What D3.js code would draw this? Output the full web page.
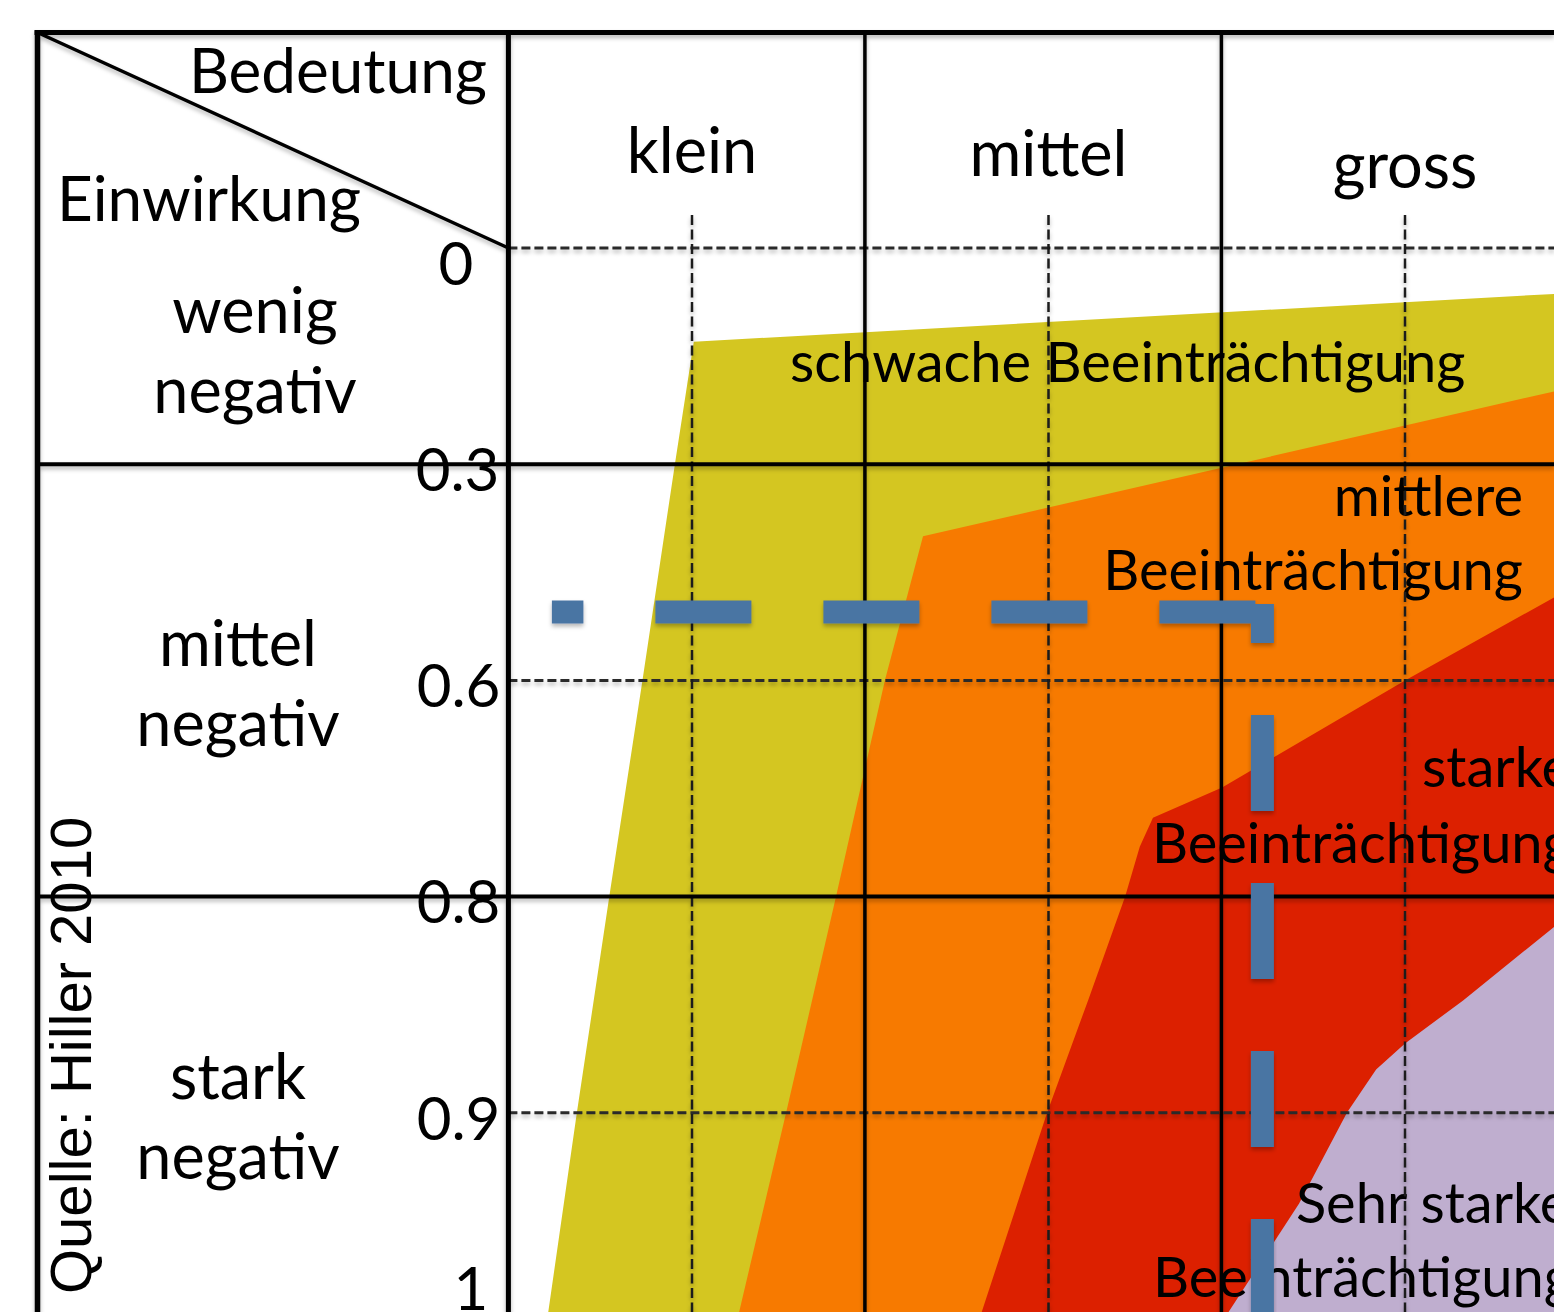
<!DOCTYPE html>
<html>
<head>
<meta charset="utf-8">
<script src="https://cdn.jsdelivr.net/npm/d3@7"></script>
<style>
  html, body { margin: 0; padding: 0; background: #fff; }
  svg { display: block; }
  text { font-family: Lato, "Noto Sans", sans-serif; fill: #000; }
</style>
</head>
<body>
<svg id="chart" width="1554" height="1312"></svg>
<script>
// ---- data -------------------------------------------------------------
// Bedeutung (significance) classes, one column each
const bedeutung = ["klein", "mittel", "gross"];

// Einwirkung (impact) scale values and their printed labels
const einwirkungTicks = [0, 0.3, 0.6, 0.8, 0.9, 1];
const einwirkungTickLabels = ["0", "0.3", "0.6", "0.8", "0.9", "1"];

// impact classes with their value ranges
const einwirkungClasses = [["wenig", "negativ"], ["mittel", "negativ"], ["stark", "negativ"]];
const einwirkungClassRanges = [[0, 0.3], [0.3, 0.8], [0.8, 1]];

// Beeinträchtigung zones: outlines as [Bedeutung position, Einwirkung value]
const zoneSchwach = [[0.005, 0.13], [-0.048, 0.3], [-0.139, 0.6], [-0.232, 0.8], [-0.323, 0.9], [-0.41, 1.0],
                     [2.7, 1.0], [2.7, 0.056]];
const zoneMittel  = [[0.648, 0.4], [0.541, 0.6], [0.404, 0.8], [0.264, 0.9], [0.121, 1.0],
                     [2.7, 1.0], [2.7, 0.167]];
const zoneStark   = [[2.7, 0.407], [2.418, 0.485], [2.0, 0.6], [1.487, 0.699], [1.293, 0.727], [1.256, 0.754],
                     [1.215, 0.8], [1.111, 0.848], [0.996, 0.9], [0.797, 1.0], [2.7, 1.0]];
const zoneSehrStark = [[2.7, 0.761], [2.418, 0.814], [2.163, 0.848], [2.0, 0.868], [1.919, 0.88], [1.837, 0.9],
                       [1.703, 0.942], [1.474, 1.0], [2.7, 1.0]];
const zoneColors = ["#d4c621", "#f77a00", "#dc2000", "#bfaecf"];

// zone captions, one entry per text line: [text, Bedeutung position, Einwirkung value, anchor]
const zoneCaptions = [
  ["schwache Beeinträchtigung", 0.275, 0.1866, "start"],
  ["mittlere", 2.331, 0.372, "end"],
  ["Beeinträchtigung", 2.331, 0.474, "end"],
  ["starke", 2.048, 0.699, "start"],
  ["Beeinträchtigung", 1.29, 0.7685, "start"],
  ["Sehr starke", 1.694, 0.951, "start"],
  ["Beeinträchtigung", 1.293, 0.985, "start"]
];

// assessed case: Bedeutung position and Einwirkung value
const assessedCase = { bedeutung: 1.6, einwirkung: 0.505 };
const guideStart = -0.393;   // Bedeutung position where the horizontal guide begins

// ---- layout -----------------------------------------------------------
const W = 1554, H = 1312;
const rowTop = 248, rowStep = 216.2;
const svg = d3.select("#chart");

const x = d3.scaleLinear().domain([0, bedeutung.length - 1]).range([692, 1405]);
const y = d3.scaleLinear().domain(einwirkungTicks).range(einwirkungTicks.map((d, i) => rowTop + i * rowStep));
const sepShift = 0.515;            // column borders sit just left of the midpoints
const leftEdge = 37.5, topEdge = 32.5;
const headBorder = x(-sepShift);

const defs = svg.append("defs");
defs.append("filter").attr("id", "shade")
  .attr("x", "-2%").attr("y", "-2%").attr("width", "104%").attr("height", "104%")
  .append("feDropShadow").attr("dx", 0).attr("dy", 3).attr("stdDeviation", 2)
  .attr("flood-color", "#000").attr("flood-opacity", 0.28);

// ---- zones ------------------------------------------------------------
const zoneLine = d3.line().x(d => x(d[0])).y(d => y(d[1])).curve(d3.curveLinearClosed);
svg.append("g").selectAll("path")
  .data([zoneSchwach, zoneMittel, zoneStark, zoneSehrStark])
  .join("path")
  .attr("d", zoneLine)
  .attr("fill", (d, i) => zoneColors[i]);

// ---- zone captions ------------------------------------------------------
svg.append("g").selectAll("text")
  .data(zoneCaptions)
  .join("text")
  .attr("x", d => x(d[1]))
  .attr("y", d => y(d[2]))
  .attr("text-anchor", d => d[3])
  .style("font-size", "56px")
  .text(d => d[0]);

// ---- grid -------------------------------------------------------------
const grid = svg.append("g").attr("filter", "url(#shade)");

// dashed row lines at the scale values inside each class
grid.selectAll("line.rowdash")
  .data([0, 0.6, 0.9])
  .join("line")
  .attr("x1", headBorder).attr("x2", W)
  .attr("y1", d => y(d)).attr("y2", d => y(d))
  .attr("stroke", "#2a2a2a").attr("stroke-width", 3).attr("stroke-dasharray", "9 4");

// dashed column midlines
grid.selectAll("line.coldash")
  .data(bedeutung)
  .join("line")
  .attr("x1", (d, i) => x(i)).attr("x2", (d, i) => x(i))
  .attr("y1", 215).attr("y2", H)
  .attr("stroke", "#1a1a1a").attr("stroke-width", 2.5).attr("stroke-dasharray", "10 4.5");

// class borders
grid.selectAll("line.rowsolid")
  .data([0.3, 0.8])
  .join("line")
  .attr("x1", leftEdge).attr("x2", W)
  .attr("y1", d => y(d)).attr("y2", d => y(d))
  .attr("stroke", "#000").attr("stroke-width", 4);

grid.selectAll("line.colsolid")
  .data(bedeutung.slice(1))
  .join("line")
  .attr("x1", (d, i) => x(i + 1 - sepShift)).attr("x2", (d, i) => x(i + 1 - sepShift))
  .attr("y1", topEdge).attr("y2", H)
  .attr("stroke", "#000").attr("stroke-width", 3.5);

// frame, header border and corner diagonal
grid.append("line").attr("x1", leftEdge - 3).attr("x2", W).attr("y1", topEdge).attr("y2", topEdge)
  .attr("stroke", "#000").attr("stroke-width", 5);
grid.append("line").attr("x1", leftEdge).attr("x2", leftEdge).attr("y1", topEdge - 2).attr("y2", H)
  .attr("stroke", "#000").attr("stroke-width", 5.5);
grid.append("line").attr("x1", headBorder).attr("x2", headBorder).attr("y1", topEdge - 2).attr("y2", H)
  .attr("stroke", "#000").attr("stroke-width", 5);
grid.append("line").attr("x1", leftEdge).attr("y1", topEdge).attr("x2", headBorder).attr("y2", y(0))
  .attr("stroke", "#000").attr("stroke-width", 3.5);

// ---- header texts -------------------------------------------------------
svg.append("text").attr("x", 487).attr("y", 93).attr("text-anchor", "end")
  .style("font-size", "62px").text("Bedeutung");
svg.append("text").attr("x", 57).attr("y", 221).attr("text-anchor", "start")
  .style("font-size", "62px").text("Einwirkung");

const colBaselines = [173, 176, 188];
svg.append("g").selectAll("text")
  .data(bedeutung)
  .join("text")
  .attr("x", (d, i) => x(i))
  .attr("y", (d, i) => colBaselines[i])
  .attr("text-anchor", "middle")
  .style("font-size", "63px")
  .text(d => d);

// scale values next to the rows
const tickNudge = [[-35, 37], [-9, 27], [-8, 27], [-8, 26], [-8, 27], [-20, -19]];
svg.append("g").selectAll("text")
  .data(einwirkungTicks)
  .join("text")
  .attr("x", (d, i) => headBorder + tickNudge[i][0])
  .attr("y", (d, i) => y(d) + tickNudge[i][1])
  .attr("text-anchor", "end")
  .style("font-size", "60px")
  .text((d, i) => einwirkungTickLabels[i]);

// impact class names
const classCenterX = [255, 238, 238];
const classNudge = [-9, 0, 0];
const classes = svg.append("g").selectAll("text")
  .data(einwirkungClasses)
  .join("text")
  .attr("text-anchor", "middle")
  .style("font-size", "63px");
classes.selectAll("tspan")
  .data((d, i) => d.map(t => ({ t, i })))
  .join("tspan")
  .attr("x", d => classCenterX[d.i])
  .attr("y", (d, j) => {
    const r = einwirkungClassRanges[d.i];
    const mid = (y(r[0]) + y(r[1])) / 2;
    return mid - 14 + classNudge[d.i] + j * 80;
  })
  .text(d => d.t);

// ---- assessed case guides ------------------------------------------------
const guides = svg.append("g").attr("filter", "url(#shade)")
  .attr("stroke", "#4a74a3").attr("stroke-width", 23).attr("fill", "none")
  .attr("stroke-dasharray", "96 72");
guides.append("line")
  .attr("x1", x(assessedCase.bedeutung)).attr("x2", x(guideStart))
  .attr("y1", y(assessedCase.einwirkung)).attr("y2", y(assessedCase.einwirkung))
  .attr("stroke-dashoffset", -7);
guides.append("line")
  .attr("x1", x(assessedCase.bedeutung)).attr("x2", x(assessedCase.bedeutung))
  .attr("y1", y(assessedCase.einwirkung) - 8).attr("y2", H + 20)
  .attr("stroke-dashoffset", 57);

// ---- source -------------------------------------------------------------
svg.append("text")
  .attr("transform", "translate(91,1294) rotate(-90)")
  .style("font-family", "'Liberation Sans', Arial, sans-serif")
  .style("font-size", "58px")
  .text("Quelle: Hiller 2010");
</script>
</body>
</html>
